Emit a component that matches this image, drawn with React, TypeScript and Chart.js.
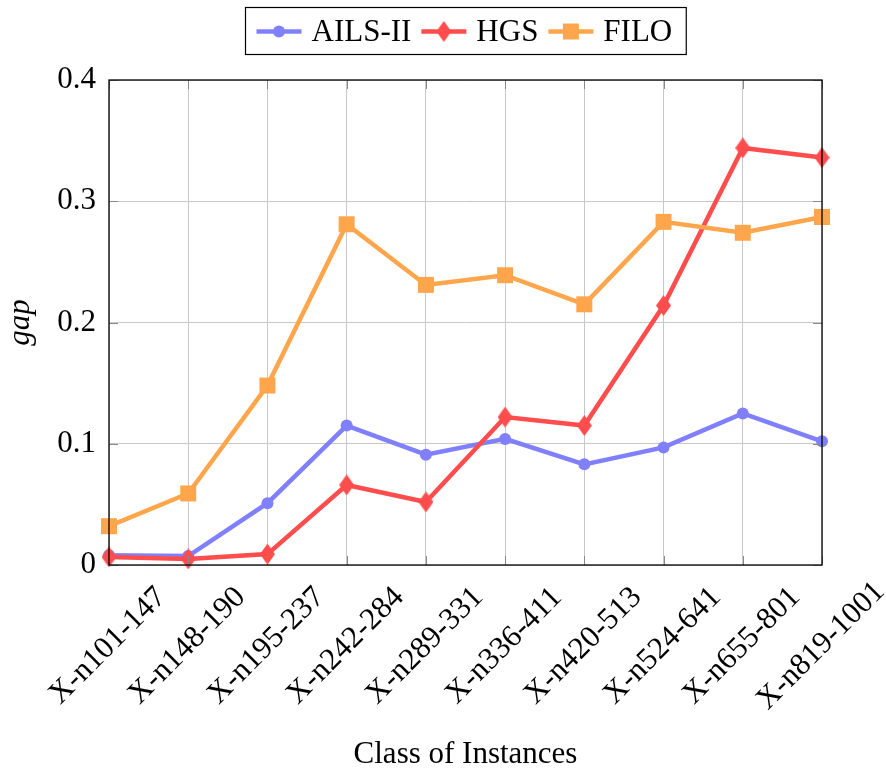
import React, { useEffect, useRef } from "react";
import { Chart, registerables } from "chart.js";

Chart.register(...registerables);

const categories = [
  "X-n101-147",
  "X-n148-190",
  "X-n195-237",
  "X-n242-284",
  "X-n289-331",
  "X-n336-411",
  "X-n420-513",
  "X-n524-641",
  "X-n655-801",
  "X-n819-1001",
];

const ailsValues = [0.008, 0.0074, 0.051, 0.115, 0.091, 0.104, 0.083, 0.097, 0.125, 0.102];
const hgsValues = [0.0066, 0.005, 0.009, 0.066, 0.052, 0.122, 0.115, 0.214, 0.344, 0.336];
const filoValues = [0.032, 0.059, 0.148, 0.281, 0.231, 0.239, 0.215, 0.283, 0.274, 0.287];

const seriesNames = ["AILS-II", "HGS", "FILO"];
const seriesColors = ["#8080ff", "#ff4d4d", "#ffa64d"];

const yTickLabels = ["0", "0.1", "0.2", "0.3", "0.4"];
const xTitle = "Class of Instances";
const yTitle = "gap";

const FONT = "Liberation Serif";
const FS = 31;

function makeDiamond(color: string) {
  const c = document.createElement("canvas");
  c.width = 15;
  c.height = 21;
  const ctx = c.getContext("2d")!;
  ctx.fillStyle = color;
  ctx.beginPath();
  ctx.moveTo(7.5, 0);
  ctx.lineTo(15, 10.5);
  ctx.lineTo(7.5, 21);
  ctx.lineTo(0, 10.5);
  ctx.closePath();
  ctx.fill();
  return c;
}

const decorPlugin = {
  id: "decor",
  afterDraw(chart: any) {
    const ctx = chart.ctx as CanvasRenderingContext2D;
    const a = chart.chartArea;
    const xs = chart.scales.x;
    const ys = chart.scales.y;
    ctx.save();
    // inner tick marks
    ctx.strokeStyle = "#8a8a8a";
    ctx.lineWidth = 1;
    const tl = 9;
    ys.ticks.forEach((t: any) => {
      const y = Math.round(ys.getPixelForValue(t.value)) + 0.5;
      ctx.beginPath();
      ctx.moveTo(a.left, y);
      ctx.lineTo(a.left + tl, y);
      ctx.moveTo(a.right, y);
      ctx.lineTo(a.right - tl, y);
      ctx.stroke();
    });
    categories.forEach((_, i) => {
      const x = Math.round(xs.getPixelForValue(i)) + 0.5;
      ctx.beginPath();
      ctx.moveTo(x, a.bottom);
      ctx.lineTo(x, a.bottom - tl);
      ctx.moveTo(x, a.top);
      ctx.lineTo(x, a.top + tl);
      ctx.stroke();
    });
    // frame
    ctx.strokeStyle = "#000";
    ctx.lineWidth = 1.3;
    ctx.strokeRect(a.left, a.top, a.right - a.left, a.bottom - a.top);

    // x tick labels rotated
    ctx.fillStyle = "#000";
    ctx.font = `${FS}px "${FONT}"`;
    ctx.textAlign = "center";
    ctx.textBaseline = "middle";
    categories.forEach((lab, i) => {
      const x = xs.getPixelForValue(i) - 1;
      ctx.save();
      ctx.translate(x, a.bottom + 81);
      ctx.rotate(-Math.PI / 4);
      ctx.fillText(lab, 0, 0);
      ctx.restore();
    });

    // axis titles
    ctx.textBaseline = "alphabetic";
    ctx.fillText(xTitle, (a.left + a.right) / 2, 763);
    ctx.save();
    ctx.font = `italic ${FS}px "${FONT}"`;
    ctx.translate(29, (a.top + a.bottom) / 2);
    ctx.rotate(-Math.PI / 2);
    ctx.fillText(yTitle, 0, 0);
    ctx.restore();

    // legend
    ctx.font = `${FS}px "${FONT}"`;
    ctx.textAlign = "left";
    const ds = chart.data.datasets;
    const lineLen = 45;
    const gapText = 10;
    const gapItem = 10;
    const padL = 11;
    const padR = 14;
    let total = padL + padR;
    const widths = ds.map((d: any) => ctx.measureText(d.label).width);
    widths.forEach((w: number, i: number) => {
      total += lineLen + gapText + w + (i < widths.length - 1 ? gapItem : 0);
    });
    const cx = (a.left + a.right) / 2;
    const bx = Math.round(cx - total / 2) + 0.5;
    const by = 7.5;
    const bh = 47;
    ctx.strokeStyle = "#000";
    ctx.lineWidth = 1.2;
    ctx.strokeRect(bx, by, total, bh);
    let x = bx + padL;
    const ly = 31.5;
    ds.forEach((d: any, i: number) => {
      ctx.strokeStyle = d.borderColor;
      ctx.lineWidth = 4.5;
      ctx.beginPath();
      ctx.moveTo(x, ly);
      ctx.lineTo(x + lineLen, ly);
      ctx.stroke();
      const mx = x + lineLen / 2;
      ctx.fillStyle = d.borderColor;
      const ps = d.pointStyle;
      if (ps === "circle") {
        ctx.beginPath();
        ctx.arc(mx, ly, d.pointRadius, 0, Math.PI * 2);
        ctx.fill();
      } else if (ps === "rect") {
        const s = d.pointRadius * Math.SQRT1_2;
        ctx.fillRect(mx - s, ly - s, 2 * s, 2 * s);
      } else if (ps && ps.width) {
        ctx.drawImage(ps, mx - ps.width / 2, ly - ps.height / 2);
      }
      ctx.fillStyle = "#000";
      ctx.fillText(d.label, x + lineLen + gapText, 41);
      x += lineLen + gapText + widths[i] + gapItem;
    });
    ctx.restore();
  },
};

export default function App() {
  const ref = useRef<HTMLCanvasElement | null>(null);
  useEffect(() => {
    if (!ref.current) return;
    const diamond = makeDiamond(seriesColors[1]);
    const chart = new Chart(ref.current, {
      type: "line",
      data: {
        labels: categories,
        datasets: [
          {
            label: seriesNames[0],
            data: ailsValues,
            borderColor: seriesColors[0],
            backgroundColor: seriesColors[0],
            borderWidth: 4.5,
            pointStyle: "circle",
            pointRadius: 6,
            pointBorderWidth: 0,
            tension: 0,
            clip: false as any,
            order: 2,
          },
          {
            label: seriesNames[1],
            data: hgsValues,
            borderColor: seriesColors[1],
            backgroundColor: seriesColors[1],
            borderWidth: 4.5,
            pointStyle: diamond as any,
            pointRadius: 8,
            pointBorderWidth: 0,
            tension: 0,
            clip: false as any,
            order: 1,
          },
          {
            label: seriesNames[2],
            data: filoValues,
            borderColor: seriesColors[2],
            backgroundColor: seriesColors[2],
            borderWidth: 4.5,
            pointStyle: "rect",
            pointRadius: 11.3,
            pointBorderWidth: 0,
            tension: 0,
            clip: false as any,
            order: 0,
          },
        ],
      },
      options: {
        animation: false,
        responsive: false,
        maintainAspectRatio: false,
        layout: { padding: { top: 80, right: 64, left: 0, bottom: 0 } },
        plugins: {
          legend: { display: false },
          tooltip: { enabled: false },
          title: { display: false },
        },
        scales: {
          x: {
            type: "category",
            offset: false,
            grid: { color: "#c8c8c8", lineWidth: 1, drawTicks: false },
            border: { display: false },
            ticks: { display: false },
            afterFit: (s: any) => {
              s.height = 205;
            },
          },
          y: {
            min: 0,
            max: 0.4,
            grid: { color: "#c8c8c8", lineWidth: 1, drawTicks: false },
            border: { display: false },
            ticks: {
              stepSize: 0.1,
              padding: 13,
              color: "#000",
              font: { family: FONT, size: FS },
              callback: (_v: any, i: number) => yTickLabels[i],
            },
            afterFit: (s: any) => {
              s.width = 109;
            },
          },
        },
      },
      plugins: [decorPlugin],
    });
    return () => chart.destroy();
  }, []);
  return (
    <div style={{ position: "fixed", left: 0, top: 0, width: 886, height: 770, background: "#fff" }}>
      <canvas ref={ref} width={886} height={770} style={{ display: "block" }} />
    </div>
  );
}
